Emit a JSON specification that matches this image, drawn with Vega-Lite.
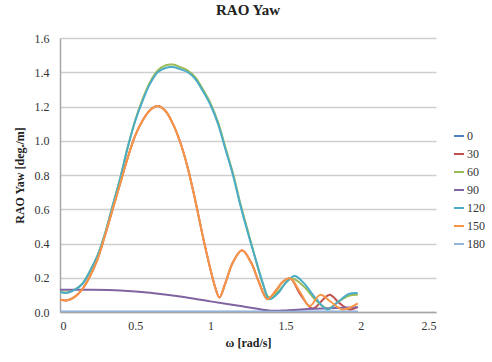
{
  "$schema": "https://vega.github.io/schema/vega-lite/v6.json",
  "width": 376,
  "height": 274,
  "autosize": {"type": "none"},
  "padding": {"left": 60, "top": 38, "right": 56, "bottom": 50},
  "background": "white",
  "title": {"text": "RAO Yaw", "font": "Liberation Serif", "fontSize": 15, "fontWeight": "bold", "color": "#222", "offset": 14, "anchor": "middle"},
  "config": {"view": {"stroke": null}, "font": "Liberation Serif"},
  "datasets": {
    "rao": [
      {"s": "0", "w": 0, "v": 0.001}, {"s": "0", "w": 1.98, "v": 0.001},

      {"s": "30", "w": 0.00, "v": 0.072}, {"s": "30", "w": 0.05, "v": 0.068}, {"s": "30", "w": 0.10, "v": 0.09}, {"s": "30", "w": 0.15, "v": 0.135},
      {"s": "30", "w": 0.20, "v": 0.21}, {"s": "30", "w": 0.25, "v": 0.31}, {"s": "30", "w": 0.30, "v": 0.45}, {"s": "30", "w": 0.35, "v": 0.60},
      {"s": "30", "w": 0.40, "v": 0.75}, {"s": "30", "w": 0.45, "v": 0.90}, {"s": "30", "w": 0.50, "v": 1.03}, {"s": "30", "w": 0.55, "v": 1.12},
      {"s": "30", "w": 0.60, "v": 1.18}, {"s": "30", "w": 0.65, "v": 1.203}, {"s": "30", "w": 0.70, "v": 1.175}, {"s": "30", "w": 0.75, "v": 1.10},
      {"s": "30", "w": 0.80, "v": 0.99}, {"s": "30", "w": 0.85, "v": 0.84}, {"s": "30", "w": 0.90, "v": 0.65}, {"s": "30", "w": 0.95, "v": 0.44},
      {"s": "30", "w": 1.00, "v": 0.25}, {"s": "30", "w": 1.03, "v": 0.15}, {"s": "30", "w": 1.06, "v": 0.085}, {"s": "30", "w": 1.10, "v": 0.17},
      {"s": "30", "w": 1.15, "v": 0.29}, {"s": "30", "w": 1.21, "v": 0.36}, {"s": "30", "w": 1.27, "v": 0.29}, {"s": "30", "w": 1.32, "v": 0.18},
      {"s": "30", "w": 1.38, "v": 0.075}, {"s": "30", "w": 1.44, "v": 0.13}, {"s": "30", "w": 1.48, "v": 0.175}, {"s": "30", "w": 1.53, "v": 0.197},
      {"s": "30", "w": 1.60, "v": 0.10}, {"s": "30", "w": 1.68, "v": 0.02}, {"s": "30", "w": 1.79, "v": 0.10}, {"s": "30", "w": 1.86, "v": 0.05},
      {"s": "30", "w": 1.925, "v": 0.015}, {"s": "30", "w": 1.98, "v": 0.03},

      {"s": "60", "w": 0.00, "v": 0.118}, {"s": "60", "w": 0.05, "v": 0.115}, {"s": "60", "w": 0.10, "v": 0.132}, {"s": "60", "w": 0.15, "v": 0.167},
      {"s": "60", "w": 0.20, "v": 0.24}, {"s": "60", "w": 0.25, "v": 0.33}, {"s": "60", "w": 0.30, "v": 0.46}, {"s": "60", "w": 0.35, "v": 0.62},
      {"s": "60", "w": 0.40, "v": 0.78}, {"s": "60", "w": 0.45, "v": 0.96}, {"s": "60", "w": 0.50, "v": 1.12}, {"s": "60", "w": 0.55, "v": 1.245},
      {"s": "60", "w": 0.60, "v": 1.345}, {"s": "60", "w": 0.65, "v": 1.41}, {"s": "60", "w": 0.70, "v": 1.44}, {"s": "60", "w": 0.75, "v": 1.445},
      {"s": "60", "w": 0.80, "v": 1.43}, {"s": "60", "w": 0.85, "v": 1.41}, {"s": "60", "w": 0.90, "v": 1.37}, {"s": "60", "w": 0.95, "v": 1.30},
      {"s": "60", "w": 1.00, "v": 1.22}, {"s": "60", "w": 1.05, "v": 1.11}, {"s": "60", "w": 1.10, "v": 0.96}, {"s": "60", "w": 1.15, "v": 0.81},
      {"s": "60", "w": 1.20, "v": 0.63}, {"s": "60", "w": 1.25, "v": 0.47}, {"s": "60", "w": 1.30, "v": 0.31}, {"s": "60", "w": 1.35, "v": 0.16},
      {"s": "60", "w": 1.39, "v": 0.085}, {"s": "60", "w": 1.45, "v": 0.12}, {"s": "60", "w": 1.54, "v": 0.195}, {"s": "60", "w": 1.62, "v": 0.15},
      {"s": "60", "w": 1.70, "v": 0.07}, {"s": "60", "w": 1.78, "v": 0.02}, {"s": "60", "w": 1.85, "v": 0.06}, {"s": "60", "w": 1.92, "v": 0.095},
      {"s": "60", "w": 1.98, "v": 0.10},

      {"s": "90", "w": 0.0, "v": 0.13}, {"s": "90", "w": 0.2, "v": 0.13}, {"s": "90", "w": 0.4, "v": 0.126}, {"s": "90", "w": 0.6, "v": 0.113},
      {"s": "90", "w": 0.8, "v": 0.09}, {"s": "90", "w": 1.0, "v": 0.062}, {"s": "90", "w": 1.2, "v": 0.035}, {"s": "90", "w": 1.4, "v": 0.008},
      {"s": "90", "w": 1.5, "v": 0.009}, {"s": "90", "w": 1.6, "v": 0.015}, {"s": "90", "w": 1.8, "v": 0.022}, {"s": "90", "w": 1.98, "v": 0.028},

      {"s": "120", "w": 0.00, "v": 0.115}, {"s": "120", "w": 0.05, "v": 0.112}, {"s": "120", "w": 0.10, "v": 0.13}, {"s": "120", "w": 0.15, "v": 0.165},
      {"s": "120", "w": 0.20, "v": 0.24}, {"s": "120", "w": 0.25, "v": 0.33}, {"s": "120", "w": 0.30, "v": 0.46}, {"s": "120", "w": 0.35, "v": 0.62},
      {"s": "120", "w": 0.40, "v": 0.78}, {"s": "120", "w": 0.45, "v": 0.96}, {"s": "120", "w": 0.50, "v": 1.115}, {"s": "120", "w": 0.55, "v": 1.235},
      {"s": "120", "w": 0.60, "v": 1.335}, {"s": "120", "w": 0.65, "v": 1.40}, {"s": "120", "w": 0.70, "v": 1.425}, {"s": "120", "w": 0.75, "v": 1.43},
      {"s": "120", "w": 0.80, "v": 1.418}, {"s": "120", "w": 0.85, "v": 1.40}, {"s": "120", "w": 0.90, "v": 1.36}, {"s": "120", "w": 0.95, "v": 1.29},
      {"s": "120", "w": 1.00, "v": 1.21}, {"s": "120", "w": 1.05, "v": 1.10}, {"s": "120", "w": 1.10, "v": 0.95}, {"s": "120", "w": 1.15, "v": 0.80},
      {"s": "120", "w": 1.20, "v": 0.62}, {"s": "120", "w": 1.25, "v": 0.46}, {"s": "120", "w": 1.30, "v": 0.31}, {"s": "120", "w": 1.35, "v": 0.165},
      {"s": "120", "w": 1.39, "v": 0.075}, {"s": "120", "w": 1.45, "v": 0.11}, {"s": "120", "w": 1.50, "v": 0.17}, {"s": "120", "w": 1.56, "v": 0.21},
      {"s": "120", "w": 1.62, "v": 0.17}, {"s": "120", "w": 1.70, "v": 0.08}, {"s": "120", "w": 1.78, "v": 0.015}, {"s": "120", "w": 1.85, "v": 0.06},
      {"s": "120", "w": 1.92, "v": 0.105}, {"s": "120", "w": 1.98, "v": 0.11},

      {"s": "150", "w": 0.00, "v": 0.072}, {"s": "150", "w": 0.05, "v": 0.068}, {"s": "150", "w": 0.10, "v": 0.09}, {"s": "150", "w": 0.15, "v": 0.135},
      {"s": "150", "w": 0.20, "v": 0.21}, {"s": "150", "w": 0.25, "v": 0.31}, {"s": "150", "w": 0.30, "v": 0.45}, {"s": "150", "w": 0.35, "v": 0.60},
      {"s": "150", "w": 0.40, "v": 0.75}, {"s": "150", "w": 0.45, "v": 0.90}, {"s": "150", "w": 0.50, "v": 1.03}, {"s": "150", "w": 0.55, "v": 1.12},
      {"s": "150", "w": 0.60, "v": 1.18}, {"s": "150", "w": 0.65, "v": 1.203}, {"s": "150", "w": 0.70, "v": 1.175}, {"s": "150", "w": 0.75, "v": 1.10},
      {"s": "150", "w": 0.80, "v": 0.99}, {"s": "150", "w": 0.85, "v": 0.84}, {"s": "150", "w": 0.90, "v": 0.65}, {"s": "150", "w": 0.95, "v": 0.44},
      {"s": "150", "w": 1.00, "v": 0.25}, {"s": "150", "w": 1.03, "v": 0.15}, {"s": "150", "w": 1.06, "v": 0.085}, {"s": "150", "w": 1.10, "v": 0.17},
      {"s": "150", "w": 1.15, "v": 0.29}, {"s": "150", "w": 1.21, "v": 0.36}, {"s": "150", "w": 1.27, "v": 0.29}, {"s": "150", "w": 1.32, "v": 0.18},
      {"s": "150", "w": 1.38, "v": 0.075}, {"s": "150", "w": 1.44, "v": 0.13}, {"s": "150", "w": 1.48, "v": 0.175}, {"s": "150", "w": 1.53, "v": 0.197},
      {"s": "150", "w": 1.60, "v": 0.11}, {"s": "150", "w": 1.66, "v": 0.035}, {"s": "150", "w": 1.73, "v": 0.10}, {"s": "150", "w": 1.80, "v": 0.06},
      {"s": "150", "w": 1.88, "v": 0.015}, {"s": "150", "w": 1.98, "v": 0.05},

      {"s": "180", "w": 0, "v": 0.001}, {"s": "180", "w": 1.98, "v": 0.001}
    ]
  },
  "data": {"name": "rao"},
  "mark": {"type": "line", "interpolate": "catmull-rom", "strokeWidth": 2, "clip": true},
  "encoding": {
    "x": {
      "field": "w", "type": "quantitative",
      "scale": {"domain": [0, 2.5], "nice": false},
      "axis": {
        "title": "ω [rad/s]", "values": [0, 0.5, 1, 1.5, 2, 2.5], "format": "~g",
        "grid": false, "ticks": false, "domainColor": "#A6A6A6", "domainWidth": 1.5,
        "labelFont": "Liberation Serif", "labelFontSize": 12, "labelColor": "#333", "labelPadding": 8,
        "titleFont": "Liberation Serif", "titleFontSize": 12, "titleFontWeight": "bold", "titleColor": "#222", "titlePadding": 6
      }
    },
    "y": {
      "field": "v", "type": "quantitative",
      "scale": {"domain": [0, 1.6], "nice": false},
      "axis": {
        "title": "RAO Yaw [deg./m]", "values": [0, 0.2, 0.4, 0.6, 0.8, 1.0, 1.2, 1.4, 1.6], "format": ".1f",
        "grid": true, "gridColor": "#CFCFCF", "gridWidth": 1.5, "ticks": false, "domainColor": "#A6A6A6", "domainWidth": 1.5,
        "labelFont": "Liberation Serif", "labelFontSize": 12, "labelColor": "#333", "labelPadding": 11,
        "titleFont": "Liberation Serif", "titleFontSize": 12, "titleFontWeight": "bold", "titleColor": "#222", "titlePadding": 8
      }
    },
    "color": {
      "field": "s", "type": "nominal",
      "scale": {
        "domain": ["0", "30", "60", "90", "120", "150", "180"],
        "range": ["#4F81BD", "#C0504D", "#9BBB59", "#8064A2", "#4BACC6", "#F79646", "#95B3D7"]
      },
      "legend": {
        "title": null, "orient": "none", "legendX": 393, "legendY": 92,
        "symbolType": "stroke", "symbolSize": 100, "symbolStrokeWidth": 2,
        "labelFont": "Liberation Serif", "labelFontSize": 12, "labelColor": "#333", "labelOffset": 2,
        "rowPadding": 6
      }
    }
  }
}
